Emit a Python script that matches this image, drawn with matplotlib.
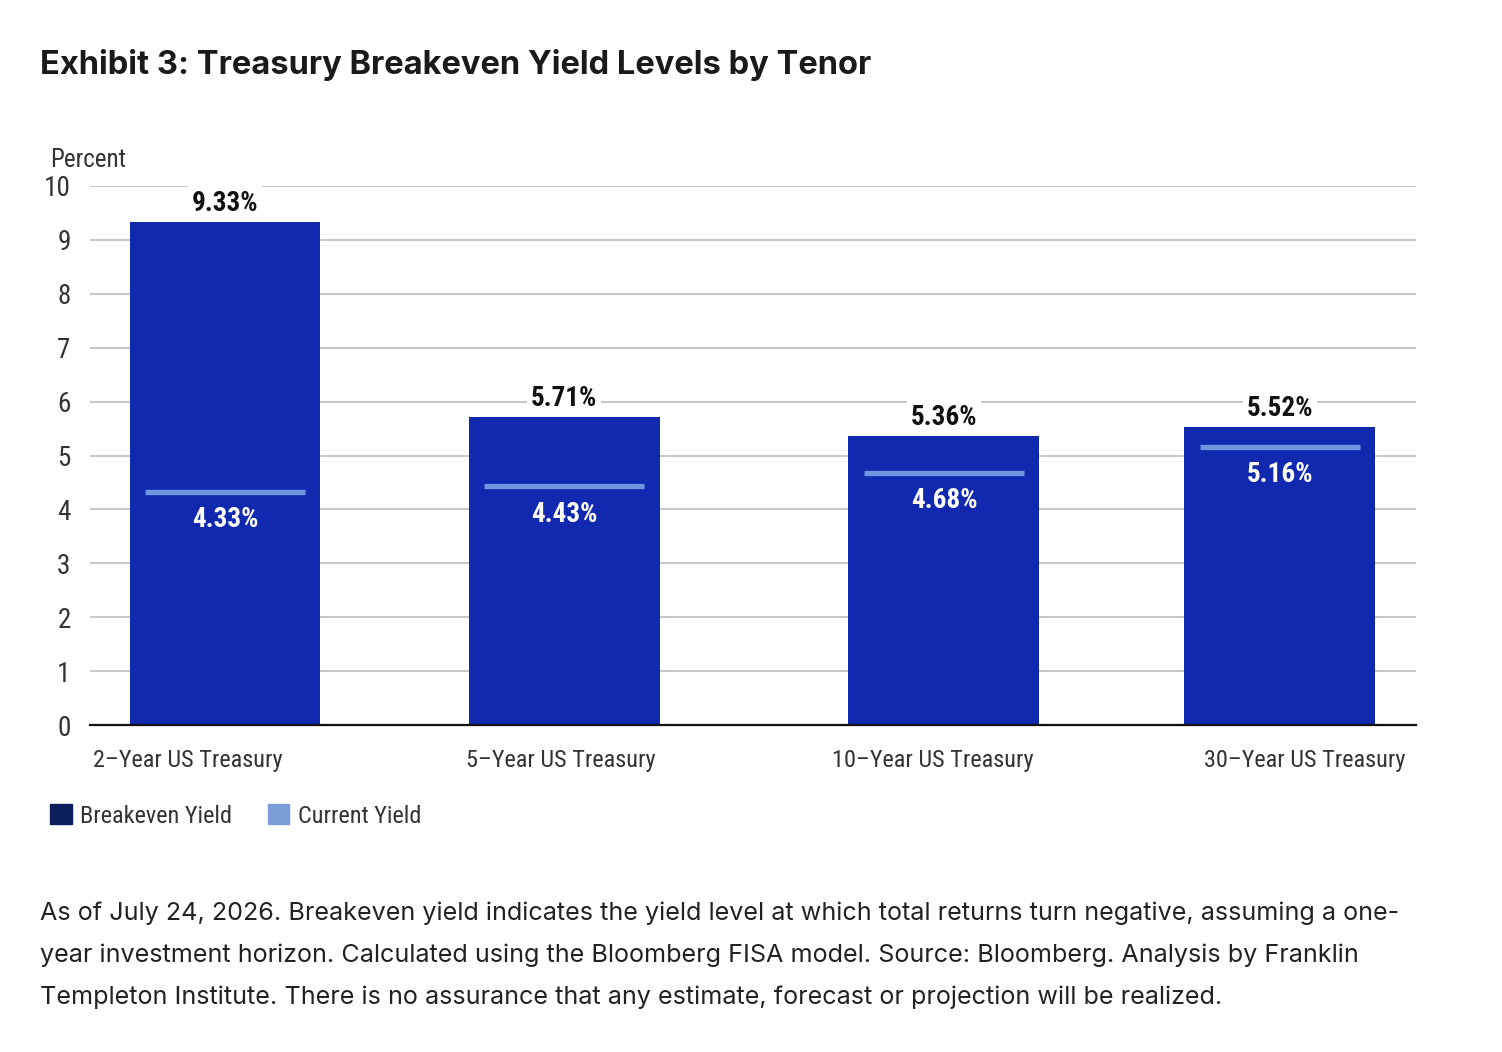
import numpy as np
import matplotlib.pyplot as plt
from matplotlib.patches import Patch

# data
tenors = ['2\u2013Year US Treasury', '5\u2013Year US Treasury',
          '10\u2013Year US Treasury', '30\u2013Year US Treasury']
breakeven = [9.33, 5.71, 5.36, 5.52]
current = [4.33, 4.43, 4.68, 5.16]
yticks = [0, 1, 2, 3, 4, 5, 6, 7, 8, 9, 10]

# layout (axes fraction)
bar_pos = [0.1018, 0.3575, 0.644, 0.8974]
label_pos = [0.0739, 0.3552, 0.6357, 0.9163]
bar_w = 0.144
line_w = 0.12

narrow = ['Roboto Condensed', 'Liberation Sans Narrow', 'DejaVu Sans']
body = ['Inter', 'DejaVu Sans']

bar_col = '#1029ae'
cur_col = '#6f95de'

fig = plt.figure(figsize=(15.02, 10.52), dpi=100)
ax = fig.add_axes([90/1502, 1-725/1052, 1326/1502, (725-186)/1052])

ax.bar(bar_pos, breakeven, width=bar_w, color=bar_col, zorder=2)
for x, c in zip(bar_pos, current):
    ax.plot([x - line_w/2, x + line_w/2], [c, c], color=cur_col, lw=3.8,
            solid_capstyle='butt', zorder=3)

# breakeven labels above bars
for x, b in zip(bar_pos, breakeven):
    ax.annotate('%.2f%%' % b, (x, b), xytext=(0, 4), textcoords='offset points',
                ha='center', va='bottom', fontsize=19.5, fontweight='bold',
                family=narrow, color='#111111', zorder=4,
                bbox=dict(boxstyle='square,pad=0.15', fc='white', ec='none'))
# current yield labels under the line
for x, c in zip(bar_pos, current):
    ax.annotate('%.2f%%' % c, (x, c), xytext=(0, -20), textcoords='offset points',
                ha='center', va='center', fontsize=19.5, fontweight='bold',
                family=narrow, color='white', zorder=4)

ax.set_xlim(0, 1)
ax.set_ylim(0, 10)
ax.set_yticks(yticks)
ax.set_yticklabels([str(t) for t in yticks], family=narrow, fontsize=19.5, color='#333333')
ax.yaxis.grid(True, color='#c8c8c8', lw=1.5, zorder=0)
ax.set_axisbelow(True)
ax.tick_params(axis='y', length=0, pad=14)
ax.set_xticks([])
for s in ['top', 'right', 'left']:
    ax.spines[s].set_visible(False)
ax.spines['bottom'].set_color('#111111')
ax.spines['bottom'].set_linewidth(1.6)
ax.spines['bottom'].set_zorder(5)

for x, t in zip(label_pos, tenors):
    ax.text(x, -0.65, t, ha='center', va='center', fontsize=17.5,
            family=narrow, color='#333333')

fig.text(50/1502, 1-160/1052, 'Percent', ha='left', va='center', fontsize=18,
         family=narrow, color='#333333')

# legend
handles = [Patch(color='#0c1f5c', label='Breakeven Yield'),
           Patch(color='#7a9cd8', label='Current Yield')]
fig.legend(handles=handles, loc='center left', bbox_to_anchor=(28/1502, 1-816/1052),
           ncol=2, frameon=False, prop={'family': narrow, 'size': 17.5},
           handlelength=0.9, handleheight=0.9, handletextpad=0.35, columnspacing=1.45,
           labelcolor='#333333')

fig.text(40/1502, 1-65/1052, 'Exhibit 3: Treasury Breakeven Yield Levels by Tenor',
         ha='left', va='center', fontsize=23.5, fontweight='bold', family=body, color='#1a1a1a')

foot = ('As of July 24, 2026. Breakeven yield indicates the yield level at which total returns turn negative, assuming a one-\n'
        'year investment horizon. Calculated using the Bloomberg FISA model. Source: Bloomberg. Analysis by Franklin\n'
        'Templeton Institute. There is no assurance that any estimate, forecast or projection will be realized.')
fig.text(40/1502, 1-955/1052, foot, ha='left', va='center', fontsize=18.1, family=body,
         color='#222222', linespacing=2.0)

fig.savefig('out.png', dpi=100, facecolor='white')
